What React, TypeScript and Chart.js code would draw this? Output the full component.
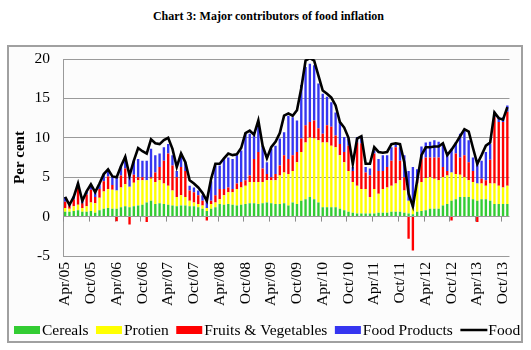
import React, { useEffect, useRef } from 'react';
import { Chart, registerables } from 'chart.js';

Chart.register(...registerables);

const FONT = '"Liberation Serif", "Times New Roman", serif';

// Monthly categories: Apr 2005 .. Nov 2013
const MONTH_NAMES = ['Jan', 'Feb', 'Mar', 'Apr', 'May', 'Jun', 'Jul', 'Aug', 'Sep', 'Oct', 'Nov', 'Dec'];
const FIRST_YEAR = 2005;
const FIRST_MONTH = 3; // Apr
const N_MONTHS = 104;
const CATEGORIES: string[] = [];
for (let k = 0; k < N_MONTHS; k++) {
  const m = (FIRST_MONTH + k) % 12;
  const y = FIRST_YEAR + Math.floor((FIRST_MONTH + k) / 12);
  CATEGORIES.push(`${MONTH_NAMES[m]}/${String(y).slice(2)}`);
}
const SHOWN_TICKS = ['Apr', 'Oct'];

const CEREALS = [
  0.6, 0.6, 0.7, 0.8, 0.6, 0.6, 0.7, 0.5, 0.8, 1.0, 1.1, 1.0,
  1.0, 1.2, 1.3, 1.2, 1.3, 1.4, 1.5, 1.8, 2.0, 1.6, 1.7, 1.6,
  1.5, 1.4, 1.3, 1.4, 1.4, 1.3, 1.3, 1.2, 1.0, 0.7, 1.0, 1.2,
  1.6, 1.5, 1.6, 1.5, 1.4, 1.5, 1.6, 1.7, 1.7, 1.6, 1.7, 1.8,
  1.7, 1.6, 1.6, 1.7, 1.4, 1.8, 1.6, 2.0, 2.2, 2.5, 2.2, 1.8,
  1.2, 1.2, 1.2, 1.2, 1.0, 0.8, 0.6, 0.5, 0.4, 0.4, 0.4, 0.4,
  0.4, 0.5, 0.5, 0.5, 0.6, 0.6, 0.6, 0.5, 0.4, 0.3, 0.6, 0.7,
  0.8, 1.0, 1.0, 1.0, 1.4, 1.6, 2.0, 2.2, 2.5, 2.5, 2.5, 2.2,
  2.0, 2.2, 2.2, 2.0, 1.6, 1.6, 1.6, 1.6,
];

const PROTIEN = [
  0.5, 0.4, 0.6, 0.7, 0.5, 0.7, 1.1, 1.2, 1.6, 2.2, 2.4, 2.4,
  2.3, 2.5, 2.8, 2.6, 3.0, 3.2, 3.1, 2.8, 2.8, 2.8, 2.9, 2.6,
  2.4, 1.9, 1.2, 1.3, 1.1, 0.7, 0.5, 0.4, 0.4, 0.4, 0.6, 0.6,
  0.6, 1.2, 1.5, 1.6, 2.1, 2.2, 2.3, 2.7, 2.7, 2.8, 2.7, 2.8,
  2.9, 3.0, 3.6, 3.9, 4.0, 4.0, 5.3, 6.2, 7.2, 7.5, 7.7, 7.9,
  8.2, 8.2, 7.8, 7.6, 6.8, 6.1, 5.2, 3.9, 3.5, 3.1, 3.1, 2.1,
  3.1, 2.4, 3.0, 3.2, 3.3, 3.6, 4.0, 2.8, 1.6, 0.9, 3.6, 3.7,
  4.1, 4.0, 3.8, 3.6, 3.6, 3.6, 3.6, 3.2, 2.8, 2.5, 2.1, 2.2,
  2.2, 2.0, 1.7, 2.2, 2.6, 2.3, 2.1, 2.3,
];

const FRUITS_VEG = [
  0.8, 0.4, 0.9, 2.2, 0.6, 1.5, 1.6, 0.8, 1.1, 1.3, 1.6, 0.6,
  -0.6, 1.5, 2.0, -1.0, 1.0, 0.4, 0.4, -0.7, 0.2, 1.2, 1.7, 2.9,
  4.1, 3.2, 2.5, 3.6, 3.3, 1.3, 1.3, 1.1, 0.6, -0.5, 0.4, 0.9,
  1.3, 0.8, 0.6, 0.4, 0.7, 0.7, 0.7, 0.8, 2.9, 3.8, 1.7, 0.8,
  0.4, 0.8, 1.3, 2.2, 1.9, 2.0, 1.3, 1.7, 2.2, 2.0, 2.3, 1.5,
  1.1, 2.2, 2.4, 1.5, 1.4, 1.3, 3.2, 1.4, 5.5, 5.8, 2.1, 2.7,
  4.5, 2.9, 2.3, 2.6, 3.2, 4.6, 2.5, 1.7, -2.8, -4.3, 0.6, 2.9,
  2.6, 2.5, 2.7, 2.9, 1.3, 0.6, -0.5, 2.6, 2.2, 2.8, 2.3, 1.4,
  -0.7, 0.6, 0.7, 3.0, 8.4, 8.1, 8.3, 9.4,
];

const FOOD_PRODUCTS = [
  0.6, 0.2, 0.4, 0.5, 0.3, 0.4, 0.7, 0.6, 0.7, 0.9, 0.9, 1.1,
  1.7, 1.2, 1.5, 2.0, 1.8, 2.3, 2.1, 2.5, 3.6, 2.2, 1.7, 1.7,
  1.2, 1.3, 0.8, 1.7, 1.1, 0.6, 0.6, 0.6, 0.7, 0.9, 2.5, 3.8,
  3.0, 3.8, 3.8, 3.8, 3.6, 4.0, 5.9, 5.3, 3.0, 3.8, 2.9, 1.5,
  3.6, 3.6, 3.4, 2.9, 5.5, 4.8, 4.0, 6.8, 7.4, 7.4, 7.0, 5.7,
  5.1, 3.6, 3.1, 2.9, 2.8, 1.9, 0.9, 0.5, 0.7, 0.9, 0.7, 0.9,
  0.4, 1.5, 2.0, 1.5, 1.7, 0.4, 1.7, 2.8, 3.8, 5.1, 1.2, 1.6,
  1.9, 2.0, 2.2, 2.0, 2.9, 2.4, 3.0, 1.4, 3.0, 3.1, 2.8, 1.7,
  2.7, 2.3, 3.6, 2.0, 0.7, 0.6, 0.6, 0.8,
];

const FOOD = [
  2.5, 1.5, 2.5, 4.2, 2.0, 3.2, 4.1, 3.1, 4.2, 5.4, 6.0, 5.1,
  5.0, 6.4, 7.6, 5.2, 7.1, 8.7, 8.3, 8.0, 9.8, 9.3, 9.2, 9.7,
  10.0, 8.6, 6.3, 8.0, 6.9, 4.6, 4.2, 3.7, 3.0, 2.0, 4.8, 6.7,
  6.7, 7.4, 8.0, 7.8, 7.9, 8.7, 10.6, 10.9, 10.4, 12.2, 9.0, 7.4,
  8.8, 9.5, 10.6, 12.8, 13.1, 12.8, 13.5, 16.3, 19.8, 20.1, 19.8, 17.9,
  16.0, 15.6, 15.1, 14.1, 12.0, 11.3, 10.0, 6.7, 9.9, 10.2, 6.7, 6.7,
  8.8, 8.2, 8.1, 8.2, 9.2, 9.3, 9.2, 6.9, 2.9, 1.3, 4.6, 7.8,
  8.8, 8.8, 8.9, 8.9, 9.3, 7.8, 8.5, 9.3, 10.2, 11.1, 10.8, 8.7,
  6.7, 7.8, 9.0, 9.4, 13.2, 12.5, 12.3, 13.9,
];

const Y_MIN = -5;
const Y_MAX = 20;
const Y_STEP = 5;

const SERIES_LABELS = ['Cereals', 'Protien', 'Fruits & Vegetables', 'Food Products', 'Food'];
const SERIES_COLORS = ['#33cc33', '#ffff00', '#ff0000', '#3535f0', '#000000'];

const decorPlugin = {
  id: 'decor',
  beforeDatasetsDraw(chart: any) {
    const { ctx } = chart;
    const xs = chart.scales.x;
    const ys = chart.scales.y;
    const y0 = ys.getPixelForValue(0);
    const half = (xs.getPixelForValue(1) - xs.getPixelForValue(0)) / 2;
    ctx.save();
    ctx.strokeStyle = '#8c8c8c';
    ctx.lineWidth = 1;
    for (let k = 0; k < CATEGORIES.length; k += 6) {
      const px = Math.round(xs.getPixelForValue(k) - half) + 0.5;
      ctx.beginPath();
      ctx.moveTo(px, y0);
      ctx.lineTo(px, y0 + 5);
      ctx.stroke();
    }
    ctx.restore();
  },
  afterDraw(chart: any) {
    const { ctx } = chart;
    ctx.save();
    ctx.font = `15.5px ${FONT}`;
    ctx.textBaseline = 'middle';
    ctx.textAlign = 'left';
    let lx = 5;
    const ly = 283;
    chart.data.datasets.forEach((ds: any) => {
      if (ds.type === 'line') {
        ctx.strokeStyle = ds.borderColor;
        ctx.lineWidth = 2.5;
        ctx.beginPath();
        ctx.moveTo(lx, ly);
        ctx.lineTo(lx + 27, ly);
        ctx.stroke();
      } else {
        ctx.fillStyle = ds.backgroundColor;
        ctx.fillRect(lx, ly - 4, 26, 8);
      }
      ctx.fillStyle = '#000';
      ctx.fillText(ds.label, lx + 28, ly + 1);
      lx = lx + 28 + ctx.measureText(ds.label).width + 7.5;
    });
    ctx.restore();
  },
};

export default function App() {
  const canvasRef = useRef<HTMLCanvasElement | null>(null);

  useEffect(() => {
    if (!canvasRef.current) return;
    const barSeries = [CEREALS, PROTIEN, FRUITS_VEG, FOOD_PRODUCTS];
    const datasets: any[] = barSeries.map((data, i) => ({
      type: 'bar',
      label: SERIES_LABELS[i],
      data,
      backgroundColor: SERIES_COLORS[i],
      borderWidth: 0,
      barPercentage: 0.55,
      categoryPercentage: 1.0,
      stack: 'parts',
      order: 1,
    }));
    datasets.push({
      type: 'line',
      label: SERIES_LABELS[4],
      data: FOOD,
      borderColor: SERIES_COLORS[4],
      backgroundColor: SERIES_COLORS[4],
      borderWidth: 2.6,
      pointRadius: 0,
      tension: 0,
      fill: false,
      stack: 'food',
      order: -1,
    });

    const chart = new Chart(canvasRef.current, {
      type: 'bar',
      data: { labels: CATEGORIES, datasets },
      options: {
        animation: false,
        responsive: false,
        maintainAspectRatio: false,
        layout: { padding: { top: 12, right: 13, bottom: 0, left: 0 } },
        plugins: {
          legend: { display: false },
          tooltip: { enabled: false },
        },
        scales: {
          x: {
            stacked: true,
            grid: {
              display: true,
              drawOnChartArea: false,
              drawTicks: true,
              tickLength: 6,
              tickColor: 'rgba(0,0,0,0)',
              color: 'rgba(0,0,0,0)',
            },
            border: { display: false },
            ticks: {
              autoSkip: false,
              minRotation: 90,
              maxRotation: 90,
              padding: 0,
              color: '#000',
              font: { family: FONT, size: 15.5 },
              callback: (_v: any, i: number) =>
                SHOWN_TICKS.includes(CATEGORIES[i].slice(0, 3)) ? CATEGORIES[i] : '',
            },
            afterFit: (s: any) => {
              s.height = 85;
            },
          },
          y: {
            stacked: true,
            min: Y_MIN,
            max: Y_MAX,
            ticks: {
              stepSize: Y_STEP,
              padding: 0,
              color: '#000',
              font: { family: FONT, size: 15.5 },
            },
            grid: {
              color: '#9a9a9a',
              drawTicks: true,
              tickLength: 13,
              tickColor: 'rgba(0,0,0,0)',
            },
            border: { display: true, color: '#9a9a9a' },
            title: {
              display: true,
              text: 'Per cent',
              color: '#000',
              font: { family: FONT, size: 15, weight: 'bold' },
              padding: { top: 2, bottom: 0 },
            },
            afterFit: (s: any) => {
              s.width = 54;
            },
          },
        },
      } as any,
      plugins: [decorPlugin],
    });
    return () => chart.destroy();
  }, []);

  return (
    <div style={{ position: 'absolute', left: 0, top: 0, width: 531, height: 350, background: '#fff' }}>
      <div
        style={{
          position: 'absolute',
          left: 3,
          top: 9,
          width: 531,
          textAlign: 'center',
          fontFamily: FONT,
          fontWeight: 'bold',
          fontSize: 12,
          lineHeight: '14px',
          color: '#000',
        }}
      >
        Chart 3: Major contributors of food inflation
      </div>
      <div
        style={{
          position: 'absolute',
          left: 7,
          top: 45,
          width: 516,
          height: 298,
          border: '2px solid #a0a0a0',
          boxSizing: 'border-box',
          background: '#fcfcfc',
          overflow: 'hidden',
        }}
      >
        <canvas ref={canvasRef} width={517} height={294} style={{ display: 'block', width: 517, height: 294 }} />
      </div>
    </div>
  );
}
